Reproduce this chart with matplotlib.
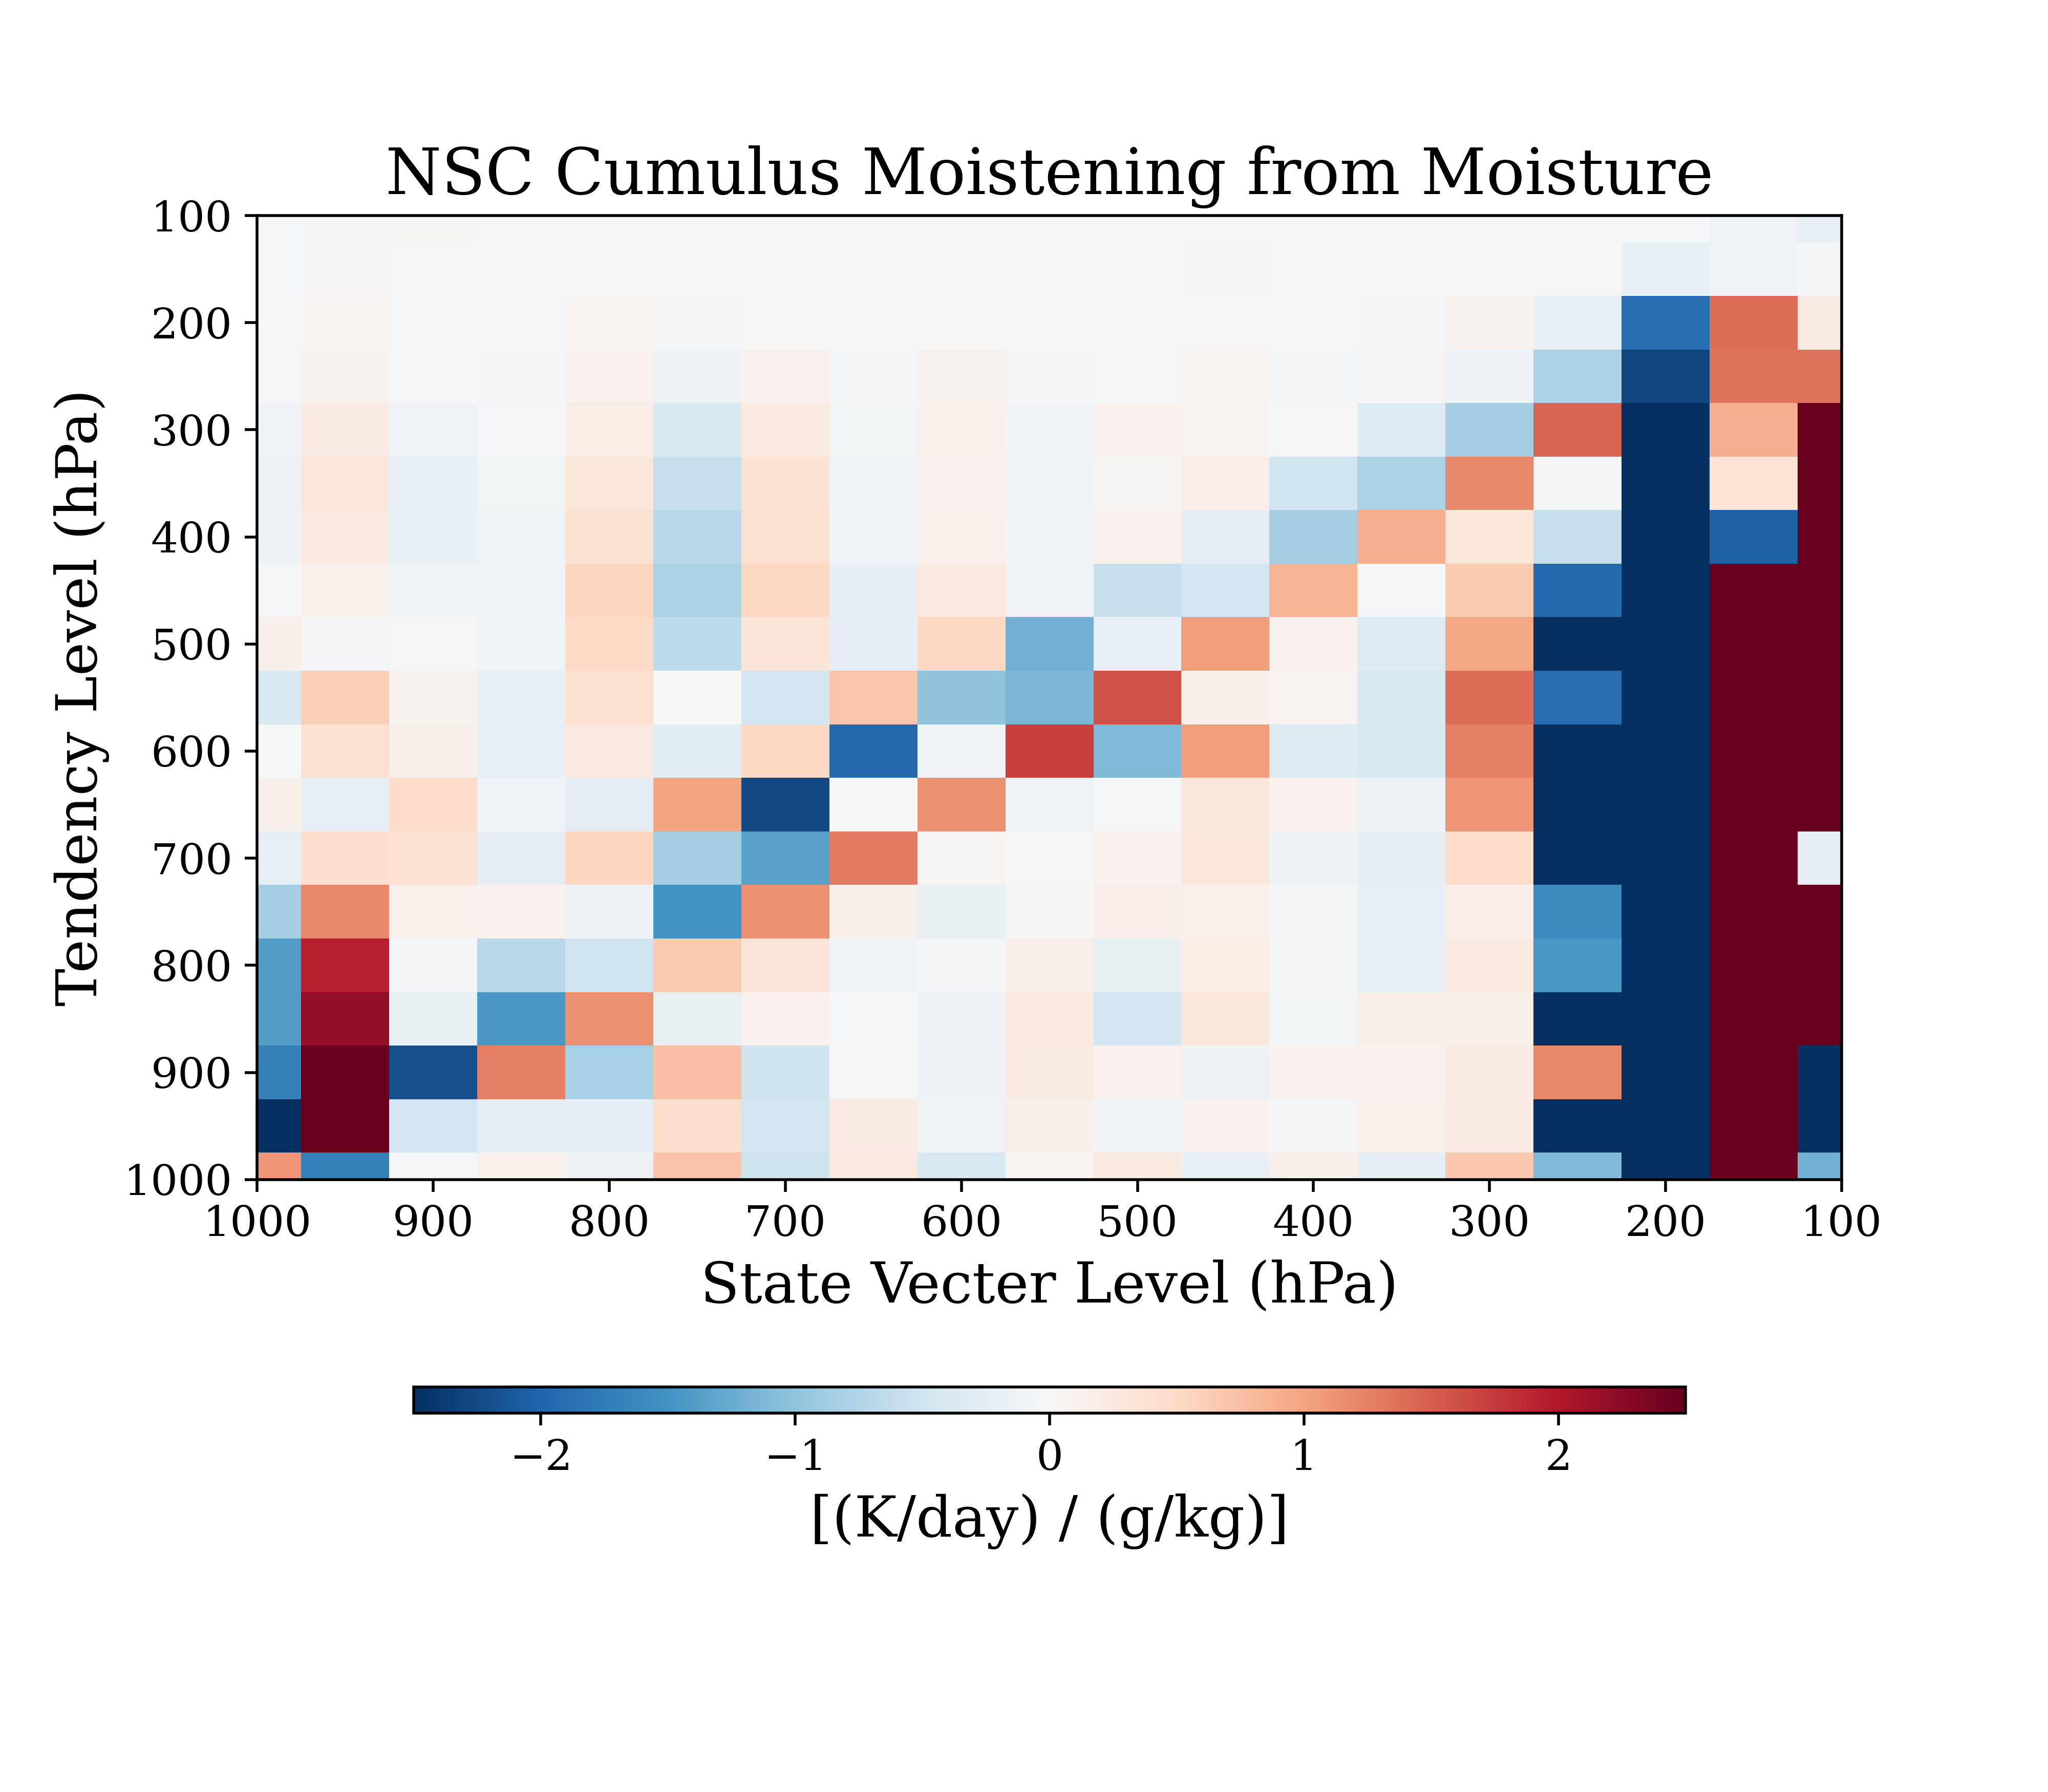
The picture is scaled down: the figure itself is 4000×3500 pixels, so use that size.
import numpy as np
import matplotlib
matplotlib.use('Agg')
import matplotlib.pyplot as plt

plt.rcParams['font.family'] = 'DejaVu Serif'

# pressure levels (hPa)
levels = np.arange(100, 1001, 50)
# state vector levels, left to right as drawn
state_levels = levels[::-1]

# rows: tendency level 100 -> 1000, columns: state level 1000 -> 100
jac = np.array([
    [-0.02, 0.02, 0.02, 0.0, 0.0, 0.0, 0.0, 0.0, 0.0, 0.0, 0.0, 0.0, 0.0, 0.0, 0.0, 0.0, -0.02, -0.1, -0.2],
    [-0.02, 0.02, -0.02, -0.02, 0.0, 0.0, 0.0, 0.0, 0.0, 0.0, 0.0, 0.02, 0.0, 0.0, 0.0, 0.0, -0.2, -0.1, -0.05],
    [-0.02, 0.05, -0.02, -0.02, 0.05, -0.05, 0.0, 0.0, 0.0, 0.0, 0.0, 0.0, 0.0, -0.05, 0.08, -0.2, -1.9, 1.4, 0.2],
    [-0.03, 0.08, -0.02, -0.05, 0.1, -0.15, 0.1, -0.05, 0.08, -0.04, -0.02, 0.07, -0.05, 0.03, -0.12, -0.8, -2.3, 1.35, 1.35],
    [-0.1, 0.2, -0.1, -0.03, 0.18, -0.4, 0.22, -0.07, 0.12, -0.08, 0.1, 0.07, 0.0, -0.35, -0.85, 1.45, -2.5, 0.9, 2.5],
    [-0.12, 0.3, -0.2, -0.07, 0.3, -0.6, 0.37, -0.1, 0.1, -0.08, 0.02, 0.17, -0.5, -0.8, 1.2, -0.05, -2.5, 0.35, 2.5],
    [-0.12, 0.25, -0.2, -0.1, 0.38, -0.7, 0.4, -0.1, 0.12, -0.08, 0.1, -0.25, -0.85, 0.9, 0.3, -0.6, -2.5, -2.05, 2.5],
    [-0.03, 0.12, -0.08, -0.1, 0.55, -0.8, 0.52, -0.25, 0.25, -0.08, -0.6, -0.45, 0.85, -0.02, 0.65, -1.95, -2.5, 2.5, 2.5],
    [0.15, -0.04, 0.0, -0.08, 0.5, -0.65, 0.33, -0.25, 0.52, -1.2, -0.22, 1.05, 0.1, -0.35, 0.97, -2.5, -2.5, 2.5, 2.5],
    [-0.4, 0.6, 0.08, -0.22, 0.4, -0.01, -0.45, 0.7, -1.0, -1.15, 1.6, 0.15, 0.07, -0.4, 1.4, -1.9, -2.5, 2.5, 2.5],
    [-0.01, 0.4, 0.15, -0.22, 0.25, -0.28, 0.52, -1.95, -0.1, 1.7, -1.1, 1.05, -0.35, -0.4, 1.25, -2.5, -2.5, 2.5, 2.5],
    [0.15, -0.22, 0.48, -0.1, -0.27, 1.0, -2.25, -0.01, 1.15, -0.1, -0.02, 0.28, 0.1, -0.12, 1.1, -2.5, -2.5, 2.5, 2.5],
    [-0.22, 0.42, 0.4, -0.25, 0.55, -0.85, -1.35, 1.3, 0.02, -0.03, 0.1, 0.3, -0.13, -0.25, 0.48, -2.5, -2.5, 2.5, -0.25],
    [-0.85, 1.2, 0.12, 0.1, -0.12, -1.5, 1.15, 0.15, -0.18, 0.03, 0.17, 0.13, -0.04, -0.22, 0.16, -1.6, -2.5, 2.5, 2.5],
    [-1.4, 1.95, -0.05, -0.7, -0.5, 0.65, 0.33, -0.1, -0.05, 0.14, -0.18, 0.18, -0.04, -0.22, 0.22, -1.45, -2.5, 2.5, 2.5],
    [-1.4, 2.2, -0.18, -1.45, 1.15, -0.18, 0.1, -0.02, -0.12, 0.25, -0.45, 0.28, -0.07, 0.14, 0.15, -2.5, -2.5, 2.5, 2.5],
    [-1.7, 2.5, -2.2, 1.25, -0.82, 0.75, -0.52, 0.0, -0.13, 0.2, 0.1, -0.12, 0.1, 0.1, 0.2, 1.2, -2.5, 2.5, -2.5],
    [-2.5, 2.5, -0.45, -0.25, -0.25, 0.43, -0.45, 0.2, -0.1, 0.14, -0.08, 0.1, -0.04, 0.13, 0.2, -2.5, -2.5, 2.5, -2.5],
    [1.1, -1.7, -0.02, 0.13, -0.14, 0.72, -0.52, 0.25, -0.4, 0.06, 0.25, -0.2, 0.15, -0.25, 0.68, -1.1, -2.5, 2.5, -1.2],
])

fig = plt.figure(figsize=(8, 7), dpi=500)
ax = fig.add_axes([0.1256, 0.3418, 0.7736, 0.5379])
mesh = ax.pcolormesh(state_levels, levels, jac, cmap='RdBu_r', vmin=-2.5, vmax=2.5,
                     shading='nearest')
ax.set_xlim(1000, 100)
ax.set_ylim(1000, 100)
ax.set_xticks(np.arange(1000, 99, -100))
ax.set_yticks(np.arange(100, 1001, 100))
ax.tick_params(labelsize=12)
ax.set_xlabel('State Vecter Level (hPa)', fontsize=16)
ax.set_ylabel('Tendency Level (hPa)', fontsize=16)
ax.set_title('NSC Cumulus Moistening from Moisture', fontsize=18)

cax = fig.add_axes([0.202, 0.2114, 0.621, 0.0146])
cb = fig.colorbar(mesh, cax=cax, orientation='horizontal')
cb.ax.tick_params(labelsize=12)
cb.set_label('[(K/day) / (g/kg)]', fontsize=16)

fig.savefig('out.png', dpi=500)
